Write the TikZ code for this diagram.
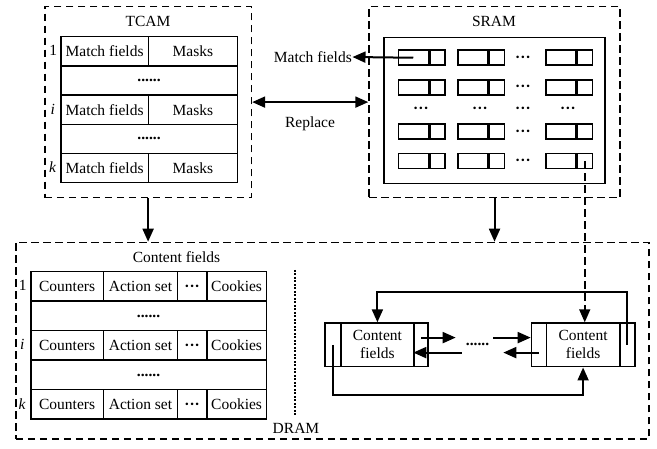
\documentclass[tikz,border=0pt]{standalone}
\usepackage{fontspec}
\setmainfont{Liberation Serif}
\usetikzlibrary{arrows.meta}
\newcommand{\middots}{\vphantom{C}\textbf{···}}
\begin{document}
\begin{tikzpicture}[x=1pt,y=-1pt,
  font=\fontsize{15.5}{18}\selectfont,
  membox/.style={draw, line width=1.5pt, dash pattern=on 7.5pt off 4.5pt, inner sep=0pt, anchor=north west},
  cell/.style={draw, line width=1.5pt, inner sep=0pt, anchor=north west},
  tcell/.style={cell, minimum height=29.2pt},
  dcell/.style={cell, minimum height=29.5pt},
  scell/.style={cell, minimum height=15pt},
  lcell/.style={cell, minimum height=43.7pt},
  lbl/.style={inner sep=0pt},
  arr/.style={line width=2pt, -{Triangle[length=13pt,width=11pt]}},
  darr/.style={line width=2pt, {Triangle[length=13pt,width=11pt]}-{Triangle[length=13pt,width=11pt]}},
]
\useasboundingbox[fill=white] (0,0) rectangle (657,449);

% ---------------- TCAM ----------------
\node[membox, minimum width=206.7pt, minimum height=191.3pt] (tcam) at (44,5.7) {};
\node (tcamt) at (148,21) {TCAM};
\foreach \rr/\yy in {1/36,3/94.4,5/152.8}{
  \node[tcell, minimum width=87.7pt] (t-\rr-a) at (60,\yy) {Match fields};
  \node[tcell, minimum width=89pt] (t-\rr-b) at (147.7,\yy) {Masks};
}
\foreach \rr/\yy in {2/65.2,4/123.6}{
  \node[tcell, minimum width=176.7pt] (t-\rr) at (60,\yy) {};
  \node[lbl] (t-\rr-dots) at (t-\rr.center) {\textbf{......}};
}
\node[lbl] (tl1) at (53.3,50.6) {1};
\node[lbl] (tli) at (52.8,109) {\textit{i}};
\node[lbl] (tlk) at (52.8,167.4) {\textit{k}};

% ---------------- SRAM ----------------
\node[membox, minimum width=251pt, minimum height=191.3pt] (sram) at (368.3,5.7) {};
\node (sramt) at (494,21) {SRAM};
\node[cell, minimum width=221pt, minimum height=146pt] (sarr) at (383.3,36.7) {};
\foreach \rr/\yy in {1/49.5,2/79.3,3/123.5,4/152.8}{
  \foreach \cc/\xx in {1/397.5,2/457,3/545}{
    \node[scell, minimum width=30pt] (s-\rr-\cc-a) at (\xx,\yy) {};
    \node[scell, minimum width=15pt, anchor=west] (s-\rr-\cc-b) at (s-\rr-\cc-a.east) {};
  }
  \node[lbl] (s-\rr-dots) at (523,\yy+7.5) {\middots};
}
\foreach \cc/\xx in {1/421,2/480,3/523,4/568}{
  \node[lbl] (sd-\cc) at (\xx,108) {\middots};
}
\node[anchor=east, inner sep=0.5pt] (mf) at (352.5,57) {Match fields};
\draw[arr] (s-1-1-a.center) -- (mf.east);

% ---------------- TCAM <-> SRAM ----------------
\draw[darr] (tcam.east) -- (sram.west);
\node (rep) at (310,124) {Replace};

% ---------------- DRAM ----------------
\node[membox, minimum width=633.3pt, minimum height=196.6pt] (dram) at (15,241.7) {};
\node (dramt) at (296,428) {DRAM};
\node (cft) at (176.5,257) {Content fields};

\draw[arr] (tcam.south) -- (tcam.south |- dram.north);
\draw[arr] (sram.south) -- (sram.south |- dram.north);

\foreach \rr/\yy in {1/271,3/330,5/389}{
  \node[dcell, minimum width=72.7pt] (d-\rr-a) at (30,\yy) {Counters};
  \node[dcell, minimum width=74pt] (d-\rr-b) at (102.7,\yy) {Action set};
  \node[dcell, minimum width=29.3pt] (d-\rr-c) at (176.7,\yy) {\middots};
  \node[dcell, minimum width=59.7pt] (d-\rr-d) at (206,\yy) {Cookies};
}
\foreach \rr/\yy in {2/300.5,4/359.5}{
  \node[dcell, minimum width=235.7pt] (d-\rr) at (30,\yy) {};
  \node[lbl] (d-\rr-dots) at (d-\rr.center) {\textbf{......}};
}
\node[lbl] (dl1) at (22.7,285.8) {1};
\node[lbl] (dli) at (22.2,344.8) {\textit{i}};
\node[lbl] (dlk) at (22.2,403.8) {\textit{k}};

% separator between the table and the list
\draw[line width=2pt, dash pattern=on 2pt off 1.5pt] (295,270) -- (295,416.7);

% linked list of content fields
\node[lcell, minimum width=16pt] (n1l) at (324,322.3) {};
\node[lcell, minimum width=73.3pt, align=center] (n1m) at (340,322.3) {Content\\fields};
\node[lcell, minimum width=14pt] (n1r) at (413.3,322.3) {};
\node[lcell, minimum width=15pt] (n2l) at (530.7,322.3) {};
\node[lcell, minimum width=73.3pt, align=center] (n2m) at (545.7,322.3) {Content\\fields};
\node[lcell, minimum width=15pt] (n2r) at (619,322.3) {};
\node[lbl] (ld) at (477.5,344) {\textbf{......}};

\draw[arr] ([yshift=7.3pt]n1r.center) -- ([shift={(-10pt,7.3pt)}]ld.west |- n1r.center);
\draw[arr] ([shift={(4pt,7.3pt)}]ld.east |- n1r.center) -- ([yshift=7.3pt]n2l.west);
\draw[arr] ([yshift=-7.7pt]n2l.center) -- ([shift={(14pt,-7.7pt)}]ld.east |- n2l.center);
\draw[arr] ([shift={(-4pt,-7.7pt)}]ld.west |- n2l.center) -- ([yshift=-7.7pt]n1r.west);

\coordinate (toploop) at (0,291.7);
\coordinate (botloop) at (0,395);
\draw[arr] (n2r.center) |- (n1m.north |- toploop) -- (n1m.north);
\draw[arr] (n1l.center) |- (n2m.south |- botloop) -- (n2m.south);

% SRAM entry pointing into the list
\draw[arr, line width=1.5pt, dash pattern=on 7.5pt off 4.5pt] (s-4-3-b.center) -- (s-4-3-b.center |- n2m.north);
\end{tikzpicture}
\end{document}
